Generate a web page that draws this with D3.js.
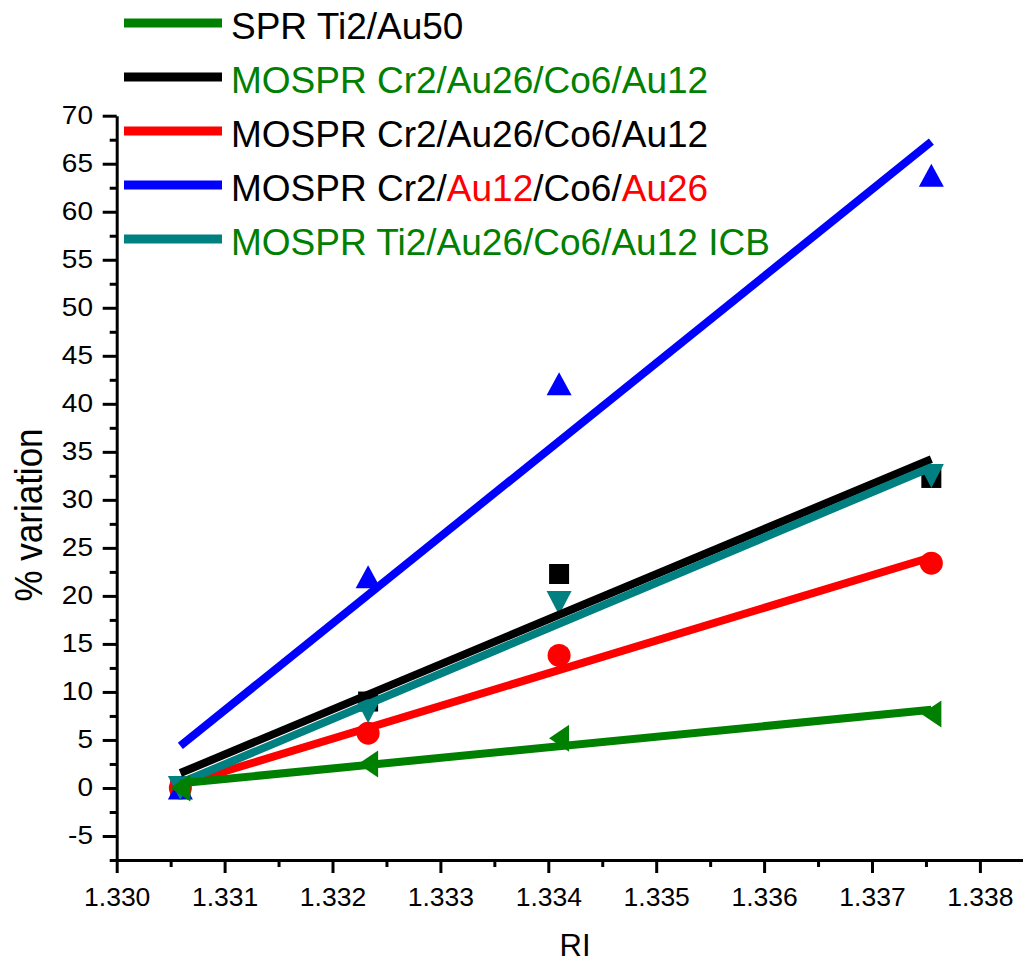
<!DOCTYPE html>
<html>
<head>
<meta charset="utf-8">
<script src="https://cdn.jsdelivr.net/npm/d3@7"></script>
<style>
  html, body { margin: 0; padding: 0; background: #fff; overflow: hidden; }
  svg { display: block; font-family: "Liberation Sans", Arial, Helvetica, sans-serif; }
</style>
</head>
<body>
<svg id="chart" width="1023" height="963"></svg>
<script>
// Refractive index of each test solution
const ri = [1.33059, 1.33233, 1.33410, 1.33755];

// % variation of the signal for each sample
const sprTi2Au50        = [0, 2.5, 5.17, 7.7];
const cr2Au26Co6Au12    = [0, 9.0, 22.28, 32.28];
const cr2Au26Co6Au12Red = [0, 5.7, 13.8, 23.4];
const cr2Au12Co6Au26    = [0, 22.0, 42.1, 63.8];
const ti2Au26Co6Au12ICB = [0, 8.0, 19.26, 32.49];

// Axis ticks
const xMajorTicks = [1.330, 1.331, 1.332, 1.333, 1.334, 1.335, 1.336, 1.337, 1.338];
const xMinorTicks = [1.3305, 1.3315, 1.3325, 1.3335, 1.3345, 1.3355, 1.3365, 1.3375];
const yMajorTicks = [-5, 0, 5, 10, 15, 20, 25, 30, 35, 40, 45, 50, 55, 60, 65, 70];
const yMinorTicks = [-7.5, -2.5, 2.5, 7.5, 12.5, 17.5, 22.5, 27.5, 32.5, 37.5, 42.5, 47.5, 52.5, 57.5, 62.5, 67.5];

// Legend entries: coloured pieces of each label
const legendLabels = [
  [["SPR Ti2/Au50", "#000000"]],
  [["MOSPR Cr2/Au26/Co6/Au12", "#008000"]],
  [["MOSPR Cr2/Au26/Co6/Au12", "#000000"]],
  [["MOSPR Cr2/", "#000000"], ["Au12", "#ff0000"], ["/Co6/", "#000000"], ["Au26", "#ff0000"]],
  [["MOSPR Ti2/Au26/Co6/Au12 ICB", "#008000"]]
];

const series = [
  { values: sprTi2Au50,        color: "#008000", marker: "left"   },
  { values: cr2Au26Co6Au12,    color: "#000000", marker: "square" },
  { values: cr2Au26Co6Au12Red, color: "#ff0000", marker: "circle" },
  { values: cr2Au12Co6Au26,    color: "#0000ff", marker: "up"     },
  { values: ti2Au26Co6Au12ICB, color: "#008080", marker: "down"   }
];

const svg = d3.select("#chart");

const x = d3.scaleLinear().domain([1.330, 1.3385]).range([116.7, 1033.85]);
const y = d3.scaleLinear().domain([-7.5, 70]).range([860, 115.7]);

// Least-squares straight line through a series
function linearFit(xs, ys) {
  const mx = d3.mean(xs), my = d3.mean(ys);
  let sxy = 0, sxx = 0;
  xs.forEach((xv, i) => { sxy += (xv - mx) * (ys[i] - my); sxx += (xv - mx) * (xv - mx); });
  const slope = sxy / sxx;
  return xv => my + slope * (xv - mx);
}

function markerPath(type) {
  const p = d3.path();
  if (type === "square") { p.rect(-10, -10, 20, 20); }
  else if (type === "circle") { p.arc(0, 0, 11.5, 0, 2 * Math.PI); }
  else if (type === "up") { p.moveTo(0, -11.5); p.lineTo(12.5, 11.5); p.lineTo(-12.5, 11.5); p.closePath(); }
  else if (type === "down") { p.moveTo(0, 12); p.lineTo(12.5, -12); p.lineTo(-12.5, -12); p.closePath(); }
  else if (type === "left") { p.moveTo(-10, 0); p.lineTo(10, -13.5); p.lineTo(10, 13.5); p.closePath(); }
  return p.toString();
}

const plot = svg.append("g");

function drawMarkers(s) {
  plot.append("g").selectAll("path")
    .data(s.values.map((v, i) => [ri[i], v]))
    .join("path")
    .attr("transform", d => `translate(${x(d[0])},${y(d[1])})`)
    .attr("d", markerPath(s.marker))
    .attr("fill", s.color);
}

function drawFit(s) {
  const f = linearFit(ri, s.values);
  const x0 = ri[0], x1 = ri[ri.length - 1];
  plot.append("line")
    .attr("x1", x(x0)).attr("y1", y(f(x0)))
    .attr("x2", x(x1)).attr("y2", y(f(x1)))
    .attr("stroke", s.color)
    .attr("stroke-width", 8)
    .attr("stroke-linecap", "butt");
}

// MOSPR data points, then their fits, then the SPR reference on top
[1, 2, 3, 4].forEach(i => drawMarkers(series[i]));
[1, 2, 3, 4].forEach(i => drawFit(series[i]));
drawFit(series[0]);
drawMarkers(series[0]);

// Axes
const axisStroke = 3;

const xAxis = svg.append("g").attr("transform", "translate(0,860)");
xAxis.call(d3.axisBottom(x).tickValues(xMajorTicks).tickSize(13).tickSizeOuter(0)
  .tickPadding(14).tickFormat(d3.format(".3f")));
xAxis.append("g").call(d3.axisBottom(x).tickValues(xMinorTicks).tickSize(7).tickSizeOuter(0).tickFormat(""))
  .select(".domain").remove();
xAxis.selectAll("path.domain").attr("stroke", "#000").attr("stroke-width", axisStroke);
xAxis.selectAll(".tick line").attr("stroke", "#000").attr("stroke-width", axisStroke);
xAxis.selectAll(".tick text").attr("font-size", 26.5).attr("fill", "#000")
  .attr("font-family", "'Liberation Sans', Arial, sans-serif");

const yAxis = svg.append("g").attr("transform", "translate(116.7,0)");
yAxis.call(d3.axisLeft(y).tickValues(yMajorTicks).tickSize(14).tickSizeOuter(0).tickFormat(""));
yAxis.append("g").call(d3.axisLeft(y).tickValues(yMinorTicks).tickSize(7).tickSizeOuter(0).tickFormat(""))
  .select(".domain").remove();
yAxis.selectAll("path.domain").attr("stroke", "#000").attr("stroke-width", axisStroke);
yAxis.selectAll(".tick line").attr("stroke", "#000").attr("stroke-width", axisStroke);
// y tick labels, slightly widened
yAxis.selectAll(".yLabel")
  .data(yMajorTicks)
  .join("text")
  .attr("class", "yLabel")
  .attr("transform", d => `translate(-23.7,${y(d) + 8}) scale(1.12,1)`)
  .attr("text-anchor", "end")
  .attr("font-size", 25)
  .attr("fill", "#000")
  .text(d => d);

// Axis titles
svg.append("text")
  .attr("x", 575).attr("y", 956)
  .attr("text-anchor", "middle")
  .attr("font-size", 31)
  .text("RI");

svg.append("text")
  .attr("transform", "translate(42,515) scale(1.1,1) rotate(-90)")
  .attr("text-anchor", "middle")
  .attr("font-size", 35)
  .text("% variation");

// Legend
const legend = svg.append("g");
const rowY = [23, 77, 131, 185, 239];
legendLabels.forEach((parts, i) => {
  legend.append("line")
    .attr("x1", 124).attr("x2", 222)
    .attr("y1", rowY[i]).attr("y2", rowY[i])
    .attr("stroke", series[i].color)
    .attr("stroke-width", 9);
  const t = legend.append("text")
    .attr("x", 231).attr("y", rowY[i] + 15.7)
    .attr("font-size", 37);
  parts.forEach(([txt, col]) => t.append("tspan").attr("fill", col).text(txt));
});
</script>
</body>
</html>
